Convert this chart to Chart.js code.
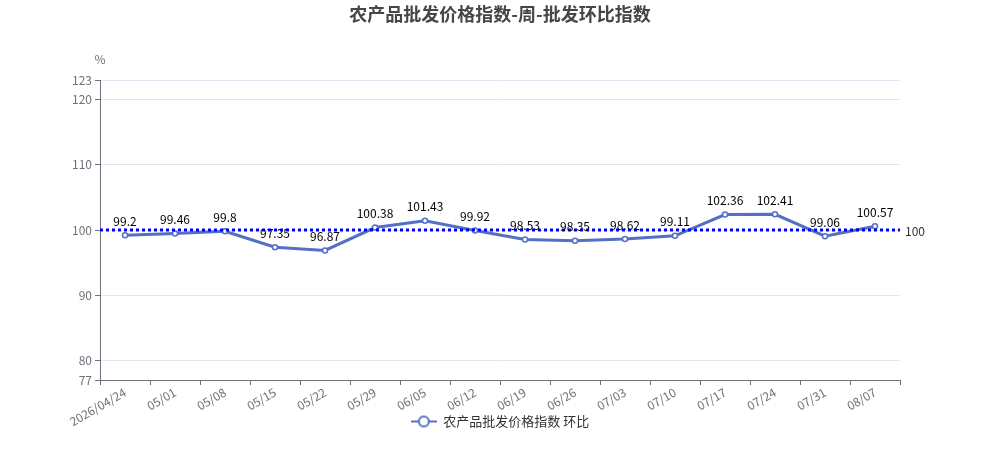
<!DOCTYPE html>
<html>
<head>
    <title>农产品批发价格指数</title>
    <style>
        body { margin: 0; overflow: hidden; background: #fff; }
        #wrap { width: 1000px; height: 450px; position: relative; }
    </style>
</head>
<body>
    <div id="wrap"><canvas id="chart" width="1000" height="450"></canvas></div>

    <script src="https://cdn.jsdelivr.net/npm/chart.js@4"></script>
    <script>
        // Data
        const titleText = '农产品批发价格指数-周-批发环比指数';
        const seriesName = '农产品批发价格指数 环比';
        const weeks = ['2026/04/24', '05/01', '05/08', '05/15', '05/22', '05/29', '06/05', '06/12',
                       '06/19', '06/26', '07/03', '07/10', '07/17', '07/24', '07/31', '08/07'];
        const ratios = [99.2, 99.46, 99.8, 97.35, 96.87, 100.38, 101.43, 99.92,
                        98.53, 98.35, 98.62, 99.11, 102.36, 102.41, 99.06, 100.57];
        const yTicks = [77, 80, 90, 100, 110, 120, 123];
        const baseline = 100;

        const FONT = '"Noto Sans CJK SC", "Noto Sans", sans-serif';
        const LINE_COLOR = '#5470c6';
        const AXIS_COLOR = '#6e7079';

        // legend icon: short line with hollow circle
        const icon = document.createElement('canvas');
        icon.width = 26; icon.height = 14;
        (function () {
            const c = icon.getContext('2d');
            c.strokeStyle = LINE_COLOR;
            c.lineWidth = 2;
            c.beginPath(); c.moveTo(0, 7); c.lineTo(26, 7); c.stroke();
            c.fillStyle = '#fff';
            c.beginPath(); c.arc(13, 7, 5, 0, Math.PI * 2); c.fill(); c.stroke();
        })();

        // title, unit, baseline and value labels
        const extras = {
            id: 'extras',
            afterLayout(chart) {
                // let the rotated x labels run below the axis box without being clipped
                chart.scales.x.bottom = chart.height;
            },
            afterDatasetsDraw(chart) {
                const ctx = chart.ctx;
                const area = chart.chartArea;
                const y = chart.scales.y;
                ctx.save();

                // baseline
                const by = y.getPixelForValue(baseline);
                ctx.strokeStyle = '#0000ff';
                ctx.lineWidth = 3;
                ctx.setLineDash([3, 3]);
                ctx.beginPath();
                ctx.moveTo(area.left, by);
                ctx.lineTo(area.right, by);
                ctx.stroke();
                ctx.setLineDash([]);
                ctx.font = '12px ' + FONT;
                ctx.fillStyle = '#333';
                ctx.textAlign = 'left';
                ctx.textBaseline = 'middle';
                ctx.fillText(String(baseline), area.right + 5, by + 1);

                // value labels
                const meta = chart.getDatasetMeta(0);
                ctx.fillStyle = '#000';
                ctx.textAlign = 'center';
                ctx.textBaseline = 'middle';
                meta.data.forEach((pt, i) => {
                    ctx.fillText(String(ratios[i]), pt.x, pt.y - 14);
                });

                // title
                ctx.font = 'bold 18px ' + FONT;
                ctx.fillStyle = '#464646';
                ctx.fillText(titleText, 500, 14);

                // unit
                ctx.font = '12px ' + FONT;
                ctx.fillStyle = AXIS_COLOR;
                ctx.fillText('%', area.left, 59);
                ctx.restore();
            }
        };

        new Chart(document.getElementById('chart'), {
            type: 'line',
            data: {
                labels: weeks,
                datasets: [{
                    label: seriesName,
                    data: ratios,
                    borderColor: LINE_COLOR,
                    borderWidth: 3,
                    pointRadius: 2.5,
                    pointBorderWidth: 1.5,
                    pointBackgroundColor: '#fff',
                    pointBorderColor: LINE_COLOR,
                    tension: 0
                }]
            },
            options: {
                responsive: false,
                animation: false,
                devicePixelRatio: 1,
                layout: { padding: { top: 80, right: 0, left: 0, bottom: 12 } },
                plugins: {
                    title: { display: false },
                    tooltip: { enabled: false },
                    legend: {
                        position: 'bottom',
                        labels: {
                            font: { family: FONT, size: 13 },
                            color: '#333',
                            usePointStyle: true,
                            pointStyleWidth: 26,
                            boxHeight: 14,
                            padding: 6,
                            generateLabels(chart) {
                                return [{
                                    text: seriesName,
                                    pointStyle: icon,
                                    fillStyle: LINE_COLOR,
                                    strokeStyle: LINE_COLOR,
                                    fontColor: '#333',
                                    datasetIndex: 0
                                }];
                            }
                        }
                    }
                },
                scales: {
                    x: {
                        offset: true,
                        grid: {
                            offset: true,
                            drawOnChartArea: false,
                            drawTicks: true,
                            tickLength: 5,
                            tickColor: AXIS_COLOR
                        },
                        border: { color: AXIS_COLOR },
                        ticks: {
                            autoSkip: false,
                            minRotation: 30,
                            maxRotation: 30,
                            padding: 0,
                            color: AXIS_COLOR,
                            font: { family: FONT, size: 12 }
                        },
                        afterFit(scale) { scale.height = 29; }
                    },
                    y: {
                        min: 77,
                        max: 123,
                        afterBuildTicks(scale) {
                            scale.ticks = yTicks.map(v => ({ value: v }));
                        },
                        afterFit(scale) { scale.width = 100; },
                        grid: {
                            color: '#e0e6f1',
                            tickLength: 5,
                            tickColor: AXIS_COLOR
                        },
                        border: { color: AXIS_COLOR },
                        ticks: {
                            padding: 3,
                            color: AXIS_COLOR,
                            font: { family: FONT, size: 12 }
                        }
                    },
                    // empty right-hand gutter so the legend stays centred on the page
                    gutter: {
                        axis: 'y',
                        position: 'right',
                        min: 77,
                        max: 123,
                        grid: { display: false, drawTicks: false },
                        border: { display: false },
                        ticks: { display: false },
                        afterFit(scale) { scale.width = 100; }
                    }
                }
            },
            plugins: [extras]
        });
    </script>
</body>
</html>
